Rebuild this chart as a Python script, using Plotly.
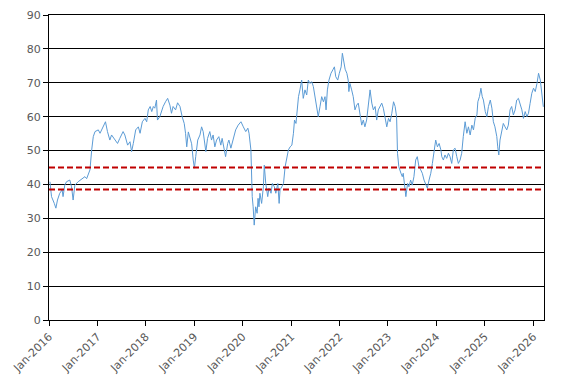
import plotly.graph_objects as go

dates = [
"2016-01-08","2016-01-20","2016-02-10","2016-02-22","2016-03-05","2016-03-22","2016-04-09","2016-04-16","2016-04-29","2016-05-12",
"2016-06-06","2016-06-19","2016-07-01","2016-07-14","2016-08-08","2016-09-04","2016-09-28","2016-10-11","2016-10-23","2016-11-05",
"2016-11-18","2016-11-30","2016-12-13","2017-01-07","2017-01-20","2017-02-02","2017-02-14","2017-03-02","2017-03-17","2017-04-04",
"2017-04-17","2017-05-11","2017-06-01","2017-06-18","2017-07-13","2017-07-26","2017-08-16","2017-09-03","2017-09-15","2017-09-28",
"2017-10-16","2017-11-05","2017-11-18","2017-12-05","2017-12-25","2018-01-07","2018-01-19","2018-02-02","2018-02-14","2018-02-26",
"2018-03-09","2018-03-22","2018-03-29","2018-04-16","2018-04-29","2018-05-11","2018-05-29","2018-06-14","2018-07-01","2018-07-13",
"2018-07-25","2018-08-13","2018-08-28","2018-09-15","2018-10-02","2018-10-17","2018-10-27","2018-11-05","2018-11-17","2018-11-29",
"2018-12-12","2018-12-24","2019-01-02","2019-01-12","2019-01-27","2019-02-13","2019-02-25","2019-03-09","2019-03-21","2019-03-29",
"2019-04-11","2019-04-28","2019-05-11","2019-05-23","2019-06-05","2019-06-18","2019-07-05","2019-07-20","2019-07-30","2019-08-14",
"2019-08-25","2019-09-10","2019-09-19","2019-10-04","2019-10-21","2019-11-09","2019-11-28","2019-12-19","2020-01-06","2020-01-24",
"2020-02-09","2020-02-18","2020-03-03","2020-03-09","2020-03-13","2020-03-20","2020-03-28","2020-04-08","2020-04-19","2020-04-26",
"2020-05-03","2020-05-10","2020-05-23","2020-06-05","2020-06-12","2020-06-23","2020-07-08","2020-07-17","2020-08-02","2020-08-12",
"2020-08-27","2020-09-07","2020-09-22","2020-10-02","2020-10-09","2020-10-22","2020-11-04","2020-11-16","2020-11-29","2020-12-11",
"2020-12-24","2021-01-06","2021-01-18","2021-01-26","2021-02-06","2021-02-15","2021-02-25","2021-03-08","2021-03-21","2021-04-02",
"2021-04-15","2021-04-28","2021-05-10","2021-05-22","2021-06-05","2021-06-17","2021-06-29","2021-07-12","2021-07-24","2021-08-06",
"2021-08-19","2021-09-01","2021-09-13","2021-09-21","2021-10-01","2021-10-13","2021-10-28","2021-11-11","2021-11-23","2021-12-03",
"2021-12-18","2021-12-30","2022-01-13","2022-01-22","2022-02-03","2022-02-12","2022-02-25","2022-03-07","2022-03-12","2022-03-20",
"2022-04-02","2022-04-14","2022-04-27","2022-05-10","2022-05-22","2022-06-04","2022-06-17","2022-06-29","2022-07-11","2022-07-24",
"2022-08-06","2022-08-19","2022-09-01","2022-09-13","2022-09-26","2022-10-08","2022-10-20","2022-11-03","2022-11-15","2022-11-27",
"2022-12-10","2022-12-23","2023-01-05","2023-01-17","2023-01-30","2023-02-12","2023-02-24","2023-03-07","2023-03-14","2023-03-24",
"2023-04-09","2023-04-19","2023-04-26","2023-05-09","2023-05-16","2023-05-29","2023-06-08","2023-06-21","2023-07-03","2023-07-16",
"2023-07-29","2023-08-10","2023-08-23","2023-09-05","2023-09-17","2023-09-30","2023-10-13","2023-10-25","2023-11-07","2023-11-20",
"2023-12-02","2023-12-14","2023-12-27","2024-01-09","2024-01-22","2024-02-04","2024-02-11","2024-02-23","2024-03-06","2024-03-19",
"2024-04-01","2024-04-13","2024-04-26","2024-05-08","2024-05-21","2024-06-03","2024-06-15","2024-06-28","2024-07-10","2024-07-22",
"2024-08-05","2024-08-18","2024-08-30","2024-09-12","2024-09-25","2024-10-07","2024-10-20","2024-11-02","2024-11-09","2024-11-21",
"2024-12-02","2024-12-12","2024-12-21","2025-01-04","2025-01-16","2025-01-28","2025-02-11","2025-02-23","2025-03-06","2025-03-18",
"2025-04-01","2025-04-08","2025-04-16","2025-04-25","2025-05-08","2025-05-20","2025-06-02","2025-06-15","2025-06-27","2025-07-10",
"2025-07-22","2025-08-04","2025-08-17","2025-08-29","2025-09-11","2025-09-24","2025-10-07","2025-10-19","2025-11-01","2025-11-14",
"2025-11-26","2025-12-08","2025-12-21","2026-01-03","2026-01-16","2026-01-29","2026-02-10","2026-02-23","2026-03-06","2026-03-18",
]

values = [
40.8,36.4,34.4,33.0,35.4,37.4,38.4,36.4,39.8,40.8,
41.3,39.3,35.4,39.8,40.8,41.7,42.3,41.7,43.3,44.3,
50.2,54.1,55.6,56.1,55.1,56.1,57.0,58.5,55.6,53.1,
54.6,53.1,52.1,53.6,55.6,54.6,51.6,52.6,49.7,52.1,
56.1,57.0,55.1,58.5,59.5,58.5,62.0,63.0,61.5,63.0,
62.5,64.9,59.0,60.0,62.0,63.0,64.4,65.4,63.4,61.0,
63.0,62.0,64.1,63.0,59.9,58.0,55.1,51.1,55.5,53.6,
52.0,47.2,44.8,48.3,53.1,54.6,57.0,55.6,52.1,49.7,
53.6,55.6,53.1,54.6,51.1,53.1,54.1,51.6,53.6,49.7,
48.2,52.1,53.1,50.7,53.1,56.1,57.5,58.5,57.0,55.6,
56.6,55.1,50.2,41.3,36.4,33.4,28.0,33.4,31.5,35.9,
33.4,37.4,34.4,39.3,45.7,40.3,36.4,38.9,37.4,40.3,
39.3,37.4,40.3,34.4,38.4,39.3,40.3,45.2,48.2,50.2,
51.1,51.6,55.1,59.0,58.0,62.0,65.9,67.9,70.8,65.4,
67.9,66.4,70.8,69.8,70.3,68.9,65.9,62.9,60.0,62.9,
65.9,64.4,65.9,62.0,67.9,70.8,72.8,73.8,74.7,71.8,
70.8,72.8,74.7,78.7,75.7,74.0,72.8,70.8,67.4,69.8,
67.9,65.9,62.0,63.4,64.0,60.0,57.5,59.0,57.0,59.0,
64.0,67.9,64.0,62.0,63.0,59.0,62.0,63.4,64.0,62.5,
60.0,57.0,59.5,58.5,61.0,64.4,63.0,60.0,49.2,45.2,
43.3,42.3,43.3,39.3,36.4,40.3,39.3,41.3,39.8,42.3,
47.2,48.2,45.2,44.3,43.3,41.3,40.3,38.9,41.3,43.3,
46.2,49.2,53.1,51.1,52.1,50.2,48.2,47.2,48.7,47.7,
49.2,48.2,46.2,50.2,50.7,48.2,46.2,47.2,49.2,54.1,
58.5,55.1,57.0,54.6,57.5,56.1,59.5,60.5,64.4,65.9,
68.4,65.9,64.9,61.5,60.0,63.0,64.9,62.5,58.5,57.0,
54.1,51.1,48.7,53.1,55.6,58.0,57.0,56.1,57.5,62.0,
63.0,60.5,62.0,64.9,65.4,63.9,62.0,59.5,61.5,60.0,
61.0,63.9,66.9,68.4,67.4,69.8,72.8,70.8,66.9,62.9,
]

thresholds = [45.0, 38.5]

tick_dates = ["2016-01-01","2017-01-01","2018-01-01","2019-01-01","2020-01-01","2021-01-01",
              "2022-01-01","2023-01-01","2024-01-01","2025-01-01","2026-01-01"]
tick_labels = ["Jan-2016","Jan-2017","Jan-2018","Jan-2019","Jan-2020","Jan-2021",
               "Jan-2022","Jan-2023","Jan-2024","Jan-2025","Jan-2026"]
x_range = ["2016-01-01", "2026-03-23"]

fig = go.Figure()
fig.add_trace(go.Scatter(x=dates, y=values, mode="lines",
                         line=dict(color="#5B9BD5", width=1), showlegend=False))
for t in thresholds:
    fig.add_trace(go.Scatter(x=x_range, y=[t, t], mode="lines",
                             line=dict(color="#C00000", width=2, dash="6px,3px"),
                             showlegend=False))

fig.update_layout(
    width=564, height=376,
    margin=dict(l=41, r=28, t=7, b=64, autoexpand=False),
    paper_bgcolor="white", plot_bgcolor="white",
    font=dict(family="DejaVu Sans", size=11, color="#595959"),
)
fig.update_xaxes(
    type="date", range=x_range, automargin=False,
    tickmode="array", tickvals=tick_dates, ticktext=tick_labels, tickangle=-45,
    showgrid=False, showline=True, linecolor="black", linewidth=1, mirror=True,
    ticks="outside", ticklen=5, tickcolor="black",
    tickfont=dict(family="DejaVu Sans", size=11, color="#595959"),
)
fig.update_yaxes(
    range=[0, 90], tickmode="linear", tick0=0, dtick=10, automargin=False,
    showgrid=True, gridcolor="black", gridwidth=1, zeroline=False,
    showline=True, linecolor="black", linewidth=1, mirror=True,
    ticks="outside", ticklen=5, tickcolor="black",
    tickfont=dict(family="DejaVu Sans", size=11, color="#595959"),
)

fig.write_html("out.html")
